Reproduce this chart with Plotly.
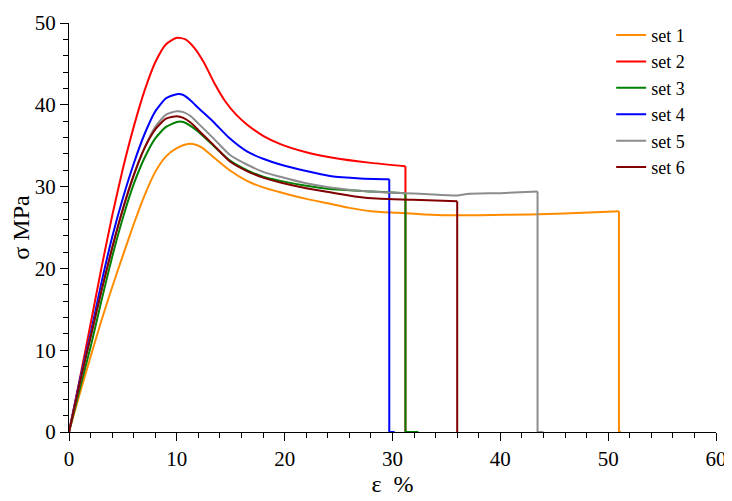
import plotly.graph_objects as go

# ---- data ----
set1_x = [0, 1, 2, 3, 4, 5, 6, 7, 8, 9, 10, 11, 11.5, 12.3, 13.4, 14.9, 16.5, 18, 19.6, 22, 24.2, 26, 28, 30.4, 33, 35, 38.1, 42.8, 45.9, 49.4, 51.0, 51.0, 51.2]
set1_y = [0, 4.7, 9.2, 13.6, 17.7, 21.6, 25.4, 28.9, 31.8, 33.7, 34.7, 35.2, 35.2, 34.8, 33.6, 32.0, 30.7, 29.9, 29.3, 28.5, 27.9, 27.4, 27.0, 26.8, 26.6, 26.5, 26.5, 26.6, 26.7, 26.9, 27.0, 0, 0]

set2_x = [0, 1, 2, 3, 4, 5, 6, 7, 8, 9, 10, 10.8, 11.6, 12.5, 13.5, 14.5, 15.5, 16.5, 18, 19.6, 22, 24.2, 28, 31.2, 31.2]
set2_y = [0, 6.5, 13.2, 20.0, 26.4, 32.2, 37.3, 41.7, 45.2, 47.4, 48.2, 48.0, 47.0, 45.2, 42.6, 40.4, 38.8, 37.6, 36.2, 35.2, 34.2, 33.6, 32.9, 32.5, 0]

set3_x = [0, 1, 2, 3, 4, 5, 6, 7, 8, 9, 10, 10.6, 11.3, 12, 13.4, 14.9, 16.5, 18, 19.6, 22, 24.2, 28.2, 31.2, 31.2, 32.4]
set3_y = [0, 5.3, 10.4, 16.0, 21.4, 26.2, 30.3, 33.5, 35.9, 37.3, 37.9, 37.9, 37.4, 36.7, 35.0, 33.2, 32.0, 31.2, 30.7, 30.1, 29.7, 29.4, 29.2, 0, 0]

set4_x = [0, 1, 2, 3, 4, 5, 6, 7, 8, 9, 10, 10.6, 11.3, 12, 13.4, 14.9, 16.5, 18, 19.6, 22, 24.2, 27, 29.7, 29.7, 30.2]
set4_y = [0, 6.3, 12.0, 18.2, 23.8, 28.6, 32.8, 36.4, 39.2, 40.8, 41.3, 41.2, 40.5, 39.6, 37.9, 35.9, 34.3, 33.4, 32.7, 31.9, 31.3, 31.0, 30.9, 0, 0]

set5_x = [0, 1, 2, 3, 4, 5, 6, 7, 8, 9, 10, 10.6, 11.3, 12, 13.4, 14.9, 16.5, 18, 19.6, 22, 24.2, 28, 31, 33, 36, 36.9, 40, 43.45, 43.45, 44.0]
set5_y = [0, 6.0, 11.6, 17.2, 22.5, 27.2, 31.3, 34.7, 37.3, 38.8, 39.2, 39.1, 38.6, 37.7, 35.9, 33.9, 32.7, 31.8, 31.2, 30.4, 29.9, 29.4, 29.2, 29.1, 28.9, 29.1, 29.2, 29.4, 0, 0]

set6_x = [0, 1, 2, 3, 4, 5, 6, 7, 8, 9, 10, 10.6, 11.3, 12, 13.4, 14.9, 16.5, 18, 19.6, 22, 24.2, 26.5, 28.9, 31.9, 36.0, 36.0]
set6_y = [0, 6.0, 11.6, 17.2, 22.5, 27.3, 31.4, 34.7, 37.0, 38.3, 38.6, 38.4, 37.8, 36.9, 35.1, 33.1, 31.9, 31.1, 30.5, 29.8, 29.3, 28.8, 28.5, 28.4, 28.2, 0]

names = ["set 1", "set 2", "set 3", "set 4", "set 5", "set 6"]
colors = ["#FF8C00", "#FF0000", "#008000", "#0000FF", "#8C8C8C", "#800000"]
xs = [set1_x, set2_x, set3_x, set4_x, set5_x, set6_x]
ys = [set1_y, set2_y, set3_y, set4_y, set5_y, set6_y]

FONT = '"Liberation Serif", "Times New Roman", serif'

fig = go.Figure()
for n, c, x, y in zip(names, colors, xs, ys):
    # last point of the smooth curve before the specimen breaks (drop to zero)
    b = next(i for i in range(1, len(y)) if y[i] == 0) - 1
    fig.add_trace(go.Scatter(x=x[:b + 1], y=y[:b + 1], mode="lines", name=n, legendgroup=n,
                             line=dict(color=c, width=2, shape="spline", smoothing=0.6),
                             cliponaxis=False))
    fig.add_trace(go.Scatter(x=x[b:], y=y[b:], mode="lines", name=n, legendgroup=n,
                             showlegend=False,
                             line=dict(color=c, width=2), cliponaxis=False))

axis_common = dict(
    showline=True, linecolor="black", linewidth=1.3, showgrid=False, zeroline=False,
    ticks="outside", ticklen=8, tickwidth=1.2, tickcolor="black",
    tickfont=dict(family=FONT, size=21, color="black"),
    minor=dict(ticks="outside", ticklen=5, tickwidth=1.1, tickcolor="black", dtick=2, showgrid=False),
    automargin=False,
)

fig.update_xaxes(range=[0, 60], dtick=10, tick0=0,
                 title=dict(text="ε\u00a0\u00a0%", font=dict(family=FONT, size=24, color="black"), standoff=4),
                 **axis_common)
fig.update_yaxes(range=[0, 50], dtick=10, tick0=0,
                 title=dict(text="σ MPa", font=dict(family=FONT, size=24, color="black"), standoff=8),
                 **axis_common)

# the page adds an 8 px body margin, so the figure is sized to fit inside it
fig.update_layout(
    width=724, height=493,
    margin=dict(l=61, r=16, t=9, b=69),
    paper_bgcolor="white", plot_bgcolor="white",
    font=dict(family=FONT, color="black"),
    legend=dict(x=0.838, y=1.015, xanchor="left", yanchor="top",
                font=dict(family=FONT, size=18, color="black"),
                bgcolor="rgba(0,0,0,0)", tracegroupgap=0),
)

fig.write_html("out.html")
